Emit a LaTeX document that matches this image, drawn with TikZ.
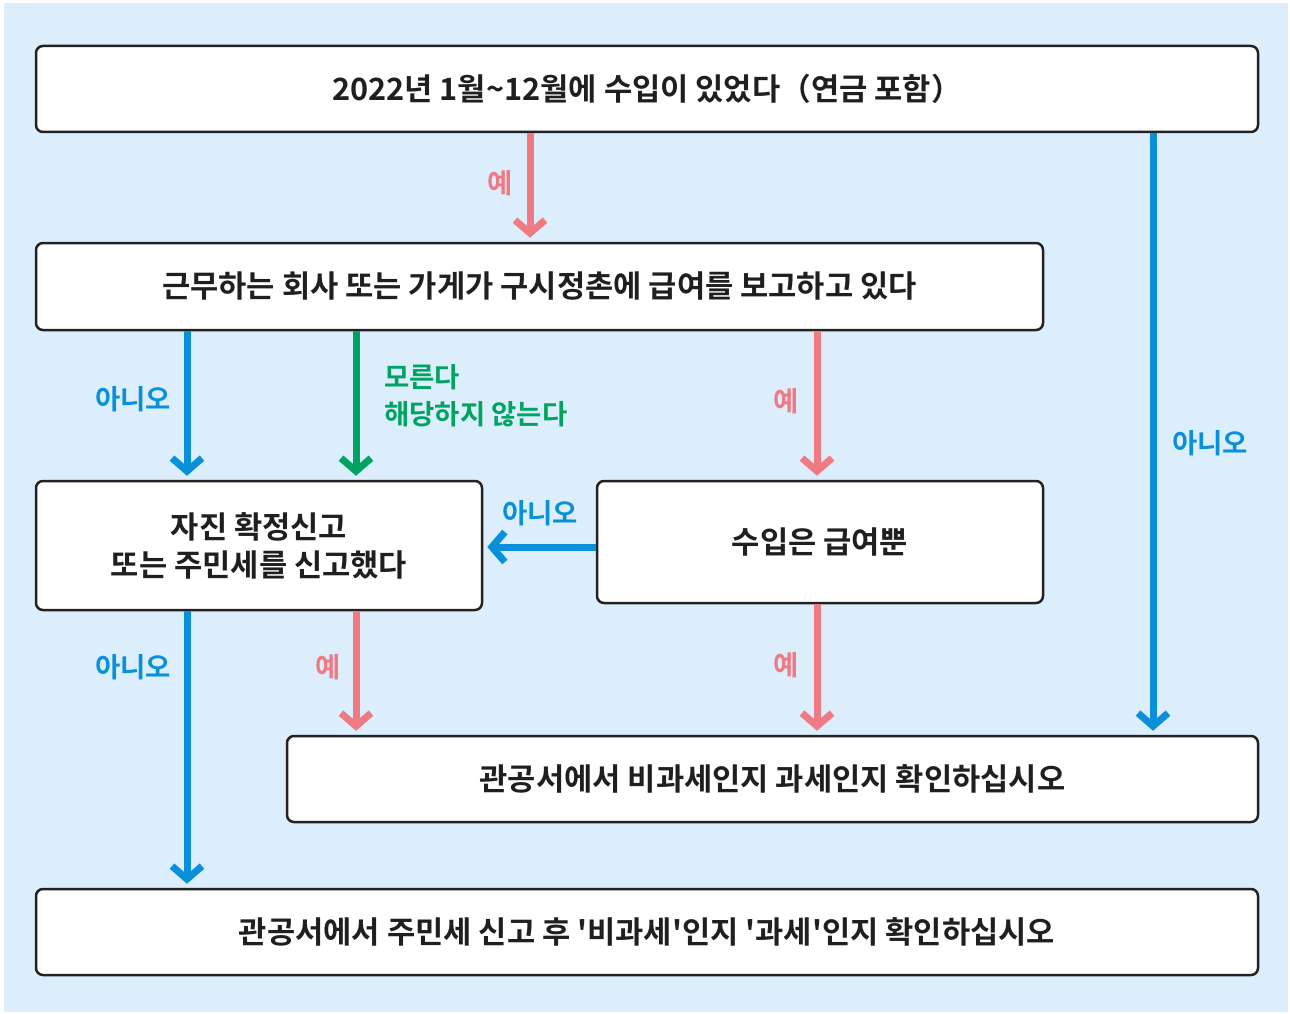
\documentclass[tikz,border=0pt]{standalone}
\usepackage{fontspec}
\usetikzlibrary{arrows.meta}
\newfontfamily\krfont{Noto Sans CJK KR}[BoldFont={Noto Sans CJK KR Bold}]
\definecolor{panel}{HTML}{DCEEFB}
\definecolor{arrblue}{HTML}{0A90D8}
\definecolor{arrpink}{HTML}{EF7A84}
\definecolor{arrgreen}{HTML}{00A362}
\definecolor{boxline}{HTML}{222222}
\tikzset{
  box/.style={draw=boxline, line width=2.5pt, rounded corners=7pt, fill=white,
    inner sep=0pt, align=center, font=\krfont\bfseries\fontsize{30.7}{38}\selectfont, text=black!88},
  flow/.style={line width=7pt, -{Straight Barb[length=13pt,width=30pt]}, shorten >=4pt},
  blueflow/.style={flow, draw=arrblue},
  pinkflow/.style={flow, draw=arrpink},
  greenflow/.style={flow, draw=arrgreen},
  lbl/.style={font=\krfont\bfseries\fontsize{27.5}{37}\selectfont, inner sep=0pt},
}
\begin{document}
\begin{tikzpicture}[x=1pt,y=-1pt]
\useasboundingbox (0,0) rectangle (1290,1014);
\fill[white] (0,0) rectangle (1290,1014);
\fill[panel] (4,3) rectangle (1288,1012);

\node[box, minimum width=1222pt, minimum height=86pt] (b1) at (647,89) {2022년 1월\textasciitilde 12월에 수입이 있었다（연금 포함）};
\node[box, minimum width=1007pt, minimum height=87pt] (b2) at (539.5,286.5) {근무하는 회사 또는 가게가 구시정촌에 급여를 보고하고 있다};
\node[box, minimum width=446pt, minimum height=129pt] (b3) at (259,545.5) {자진 확정신고\\또는 주민세를 신고했다};
\node[box, minimum width=446pt, minimum height=122pt] (b4) at (820,542) {수입은 급여뿐};
\node[box, minimum width=971pt, minimum height=86pt] (b5) at (772.5,779) {관공서에서 비과세인지 과세인지 확인하십시오};
\node[box, minimum width=1222pt, minimum height=86pt] (b6) at (647,932) {관공서에서 주민세 신고 후 '비과세'인지 '과세'인지 확인하십시오};

% arrows
\draw[pinkflow] (530,0 |- b1.south) -- (530,0 |- b2.north);
\draw[blueflow] (1153,0 |- b1.south) -- (1153,0 |- b5.north);
\draw[blueflow] (187,0 |- b2.south) -- (187,0 |- b3.north);
\draw[greenflow] (356,0 |- b2.south) -- (356,0 |- b3.north);
\draw[pinkflow] (817,0 |- b2.south) -- (817,0 |- b4.north);
\draw[blueflow] (b4.west |- 0,547) -- (b3.east |- 0,547);
\draw[pinkflow] (356,0 |- b3.south) -- (356,0 |- b5.north);
\draw[pinkflow] (817,0 |- b4.south) -- (817,0 |- b5.north);
\draw[blueflow] (187,0 |- b3.south) -- (187,0 |- b6.north);

% labels
\node[lbl, text=arrpink] (l1) at (500,183) {예};
\node[lbl, text=arrblue] (l2) at (1210,443) {아니오};
\node[lbl, text=arrblue] (l3) at (133,399) {아니오};
\node[lbl, text=arrgreen, align=left, anchor=west] (l4) at (384,395.5) {모른다\\해당하지 않는다};
\node[lbl, text=arrpink] (l5) at (786,401) {예};
\node[lbl, text=arrblue] (l6) at (540,513) {아니오};
\node[lbl, text=arrblue] (l7) at (133,667) {아니오};
\node[lbl, text=arrpink] (l8) at (328,667) {예};
\node[lbl, text=arrpink] (l9) at (786,665) {예};
\end{tikzpicture}
\end{document}
